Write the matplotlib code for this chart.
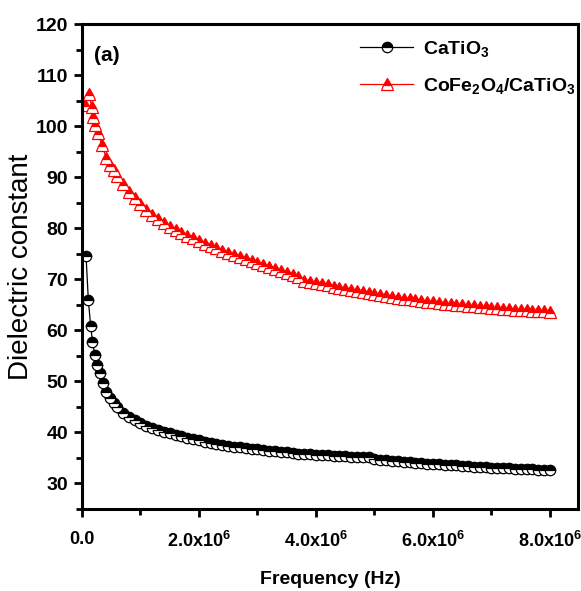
import matplotlib
matplotlib.use("Agg")
import matplotlib.pyplot as plt
from matplotlib.ticker import MultipleLocator, FixedLocator

plt.rcParams['font.family'] = ['Liberation Sans', 'DejaVu Sans']
plt.rcParams['mathtext.fontset'] = 'custom'
plt.rcParams['mathtext.rm'] = 'Liberation Sans:bold'
plt.rcParams['mathtext.bf'] = 'Liberation Sans:bold'
plt.rcParams['mathtext.it'] = 'Liberation Sans:bold'

# Frequency in MHz (scaled to Hz below)
freq_cto_mhz = [0.07, 0.11, 0.15, 0.18, 0.22, 0.26, 0.31, 0.36, 0.42, 0.48, 0.54,
                0.6, 0.7, 0.8, 0.9, 1.0, 1.1, 1.2, 1.3, 1.4, 1.5, 1.6, 1.7, 1.8, 1.9,
                2.0, 2.1, 2.2, 2.3, 2.4, 2.5, 2.6, 2.7, 2.8, 2.9, 3.0, 3.1, 3.2, 3.3,
                3.4, 3.5, 3.6, 3.7, 3.8, 3.9, 4.0, 4.1, 4.2, 4.3, 4.4, 4.5, 4.6, 4.7,
                4.8, 4.9, 5.0, 5.1, 5.2, 5.3, 5.4, 5.5, 5.6, 5.7, 5.8, 5.9, 6.0, 6.1,
                6.2, 6.3, 6.4, 6.5, 6.6, 6.7, 6.8, 6.9, 7.0, 7.1, 7.2, 7.3, 7.4, 7.5,
                7.6, 7.7, 7.8, 7.9, 8.0]
eps_cto = [74.6, 65.9, 60.8, 57.8, 55.2, 53.2, 51.6, 49.6, 48.0, 46.8, 45.7,
           44.9, 43.8, 43.0, 42.4, 41.8, 41.3, 40.9, 40.5, 40.1, 39.8, 39.5, 39.2, 38.9, 38.7,
           38.4, 38.2, 38.0, 37.8, 37.6, 37.4, 37.2, 37.1, 36.9, 36.8, 36.7, 36.5, 36.4, 36.3,
           36.2, 36.1, 35.9, 35.8, 35.7, 35.7, 35.6, 35.5, 35.5, 35.4, 35.3, 35.3, 35.2, 35.2,
           35.1, 35.1, 34.7, 34.6, 34.5, 34.4, 34.3, 34.2, 34.1, 34.0, 33.9, 33.8, 33.7, 33.7,
           33.6, 33.5, 33.5, 33.4, 33.4, 33.3, 33.2, 33.2, 33.1, 33.1, 33.0, 33.0, 32.9, 32.9,
           32.8, 32.8, 32.7, 32.7, 32.6]

freq_cfo_mhz = [0.05, 0.125, 0.165, 0.19, 0.23, 0.28, 0.34, 0.42, 0.48, 0.54,
                0.6, 0.7, 0.8, 0.9, 1.0, 1.1, 1.2, 1.3, 1.4, 1.5, 1.6, 1.7, 1.8, 1.9,
                2.0, 2.1, 2.2, 2.3, 2.4, 2.5, 2.6, 2.7, 2.8, 2.9, 3.0, 3.1, 3.2, 3.3,
                3.4, 3.5, 3.6, 3.7, 3.8, 3.9, 4.0, 4.1, 4.2, 4.3, 4.4, 4.5, 4.6, 4.7,
                4.8, 4.9, 5.0, 5.1, 5.2, 5.3, 5.4, 5.5, 5.6, 5.7, 5.8, 5.9, 6.0, 6.1,
                6.2, 6.3, 6.4, 6.5, 6.6, 6.7, 6.8, 6.9, 7.0, 7.1, 7.2, 7.3, 7.4, 7.5,
                7.6, 7.7, 7.8, 7.9, 8.0]
eps_cfo = [104.1, 106.4, 103.8, 101.8, 100.2, 98.6, 96.3, 93.7, 92.5, 91.4,
           90.3, 88.7, 87.2, 85.9, 84.7, 83.6, 82.6, 81.8, 81.0, 80.3, 79.6, 79.0, 78.5, 78.0,
           77.5, 77.0, 76.5, 76.1, 75.6, 75.2, 74.8, 74.4, 74.0, 73.6, 73.2, 72.8, 72.4, 72.0,
           71.6, 71.2, 70.9, 70.5, 69.7, 69.5, 69.2, 69.0, 68.8, 68.5, 68.3, 68.1, 67.9, 67.7,
           67.5, 67.3, 67.1, 66.9, 66.7, 66.6, 66.4, 66.2, 66.1, 65.9, 65.8, 65.6, 65.5, 65.4,
           65.2, 65.1, 65.0, 64.9, 64.8, 64.7, 64.6, 64.5, 64.4, 64.3, 64.2, 64.1, 64.0, 63.9,
           63.9, 63.8, 63.7, 63.7, 63.6]

series_labels = ['CaTiO$_3$', 'CoFe$_2$O$_4$/CaTiO$_3$']
xtick_values = [0.0, 2.0e6, 4.0e6, 6.0e6, 8.0e6]
xtick_labels = ['0.0', '2.0x10$^6$', '4.0x10$^6$', '6.0x10$^6$', '8.0x10$^6$']
ytick_values = [30, 40, 50, 60, 70, 80, 90, 100, 110, 120]

fig = plt.figure(figsize=(5.81, 5.91), dpi=100)
ax = fig.add_axes([0.141, 0.139, 0.854, 0.82])

fc = [f * 1e6 for f in freq_cto_mhz]
fr = [f * 1e6 for f in freq_cfo_mhz]

ax.plot(fc, eps_cto, color='black', lw=0.9, marker='o', markersize=7.5,
        fillstyle='top', markerfacecolor='black', markerfacecoloralt='white',
        markeredgecolor='black', markeredgewidth=0.9, label=series_labels[0])
ax.plot(fr, eps_cfo, color='red', lw=0.9, marker='^', markersize=8.5,
        fillstyle='top', markerfacecolor='red', markerfacecoloralt='white',
        markeredgecolor='red', markeredgewidth=0.9, label=series_labels[1])

ax.set_xlim(0, 8.48e6)
ax.set_ylim(25, 120)

ax.xaxis.set_major_locator(FixedLocator(xtick_values))
ax.set_xticklabels(xtick_labels)
ax.xaxis.set_minor_locator(MultipleLocator(1e6))
ax.yaxis.set_major_locator(FixedLocator(ytick_values))
ax.yaxis.set_minor_locator(MultipleLocator(5))

ax.tick_params(which='major', direction='out', length=6, width=2, labelsize=14, pad=4)
ax.tick_params(axis='x', which='major', labelsize=13, pad=10)
ax.tick_params(which='minor', direction='out', length=4, width=2)
for lbl in ax.get_xticklabels() + ax.get_yticklabels():
    lbl.set_fontweight('bold')
for s in ax.spines.values():
    s.set_linewidth(2.2)

ax.set_xlabel('Frequency (Hz)', fontsize=14, fontweight='bold', labelpad=14)
ax.set_ylabel('Dielectric constant', fontsize=20, labelpad=1.5)

ax.text(0.025, 0.955, '(a)', transform=ax.transAxes, fontsize=15, fontweight='bold',
        va='top', ha='left')

leg = ax.legend(loc='upper right', frameon=False, fontsize=14, handlelength=2.7,
                borderaxespad=0.0, labelspacing=0.85, handletextpad=0.5,
                bbox_to_anchor=(1.01, 0.985))
for t in leg.get_texts():
    t.set_fontweight('bold')

fig.savefig('out.png', dpi=100)
